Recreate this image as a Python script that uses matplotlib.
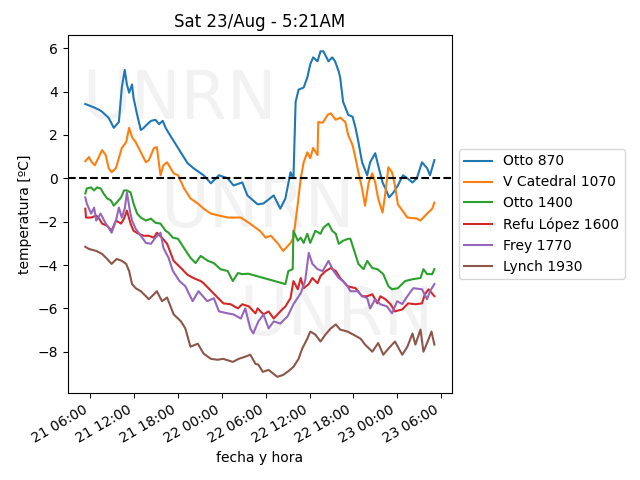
import numpy as np
import pandas as pd
import matplotlib
matplotlib.use('Agg')
import matplotlib.pyplot as plt
import matplotlib.dates as mdates

# hours since 21/Aug 00:00, temperatures in ºC
t_otto870 = [5.3, 6.5, 7.2, 7.6, 8.5, 9.2, 9.9, 10.3, 10.7, 11.0, 11.3, 11.7, 11.9, 12.4, 12.9,
             13.3, 13.7, 14.3, 14.9, 15.4, 15.9, 16.3, 16.7, 18.0, 19.3, 20.1, 21.5, 22.5, 23.6,
             24.8, 25.6, 26.8, 27.5, 28.9, 29.7, 31.1, 32.0, 32.7, 33.4, 33.8, 34.1, 34.5, 35.2,
             35.7, 36.1, 36.5, 37.1, 37.5, 37.9, 38.6, 39.1, 39.5, 40.0, 40.2, 40.6, 41.3, 41.9,
             42.3, 42.7, 43.2, 43.9, 44.3, 45.0, 45.4, 46.0, 46.4, 46.9, 47.5, 48.1, 48.8, 49.4,
             50.1, 50.7, 51.4, 52.1, 52.5, 53.1]
v_otto870 = [3.43, 3.27, 3.16, 3.07, 2.79, 2.33, 2.6, 4.19, 5.0, 4.33, 3.95, 4.33, 3.72, 2.93, 2.23,
             2.33, 2.47, 2.65, 2.7, 2.5, 2.65, 2.33, 2.1, 1.4, 0.7, 0.47, 0.14, -0.23, 0.14,
             0.0, -0.33, -0.19, -0.79, -1.2, -1.16, -0.79, -1.4, -0.93, 0.28, 0.0, 3.53, 4.09, 4.19,
             4.65, 5.26, 5.58, 5.4, 5.86, 5.86, 5.4, 5.58, 5.4, 4.93, 4.65, 3.53, 2.93, 2.84,
             2.33, 1.67, 0.74, 0.14, 0.74, 1.16, 0.6, -0.19, -0.47, -0.88, -0.65, -0.33, 0.14, 0.0,
             -0.19, 0.0, 0.74, 0.47, 0.14, 0.84]

t_catedral = [5.3, 5.8, 6.2, 6.6, 7.6, 8.1, 8.5, 8.9, 9.5, 10.3, 10.9, 11.3, 11.7, 12.2, 12.9,
              13.6, 14.0, 14.7, 15.1, 15.6, 16.0, 16.5, 17.4, 18.0, 18.8, 19.7, 20.7, 21.5, 22.5,
              24.8, 26.6, 27.9, 29.3, 30.0, 30.7, 31.6, 32.4, 33.4, 33.8, 34.4, 34.8, 35.2, 35.7,
              36.1, 36.5, 37.1, 37.2, 37.8, 38.5, 38.9, 39.6, 40.2, 40.9, 41.3, 41.9, 42.3, 42.7,
              43.2, 43.6, 44.1, 44.6, 45.0, 45.4, 46.0, 46.4, 46.8, 47.3, 47.7, 48.1, 49.4, 50.7,
              51.2, 52.1, 52.8, 53.1]
v_catedral = [0.79, 0.98, 0.74, 0.6, 1.3, 1.07, 0.47, 0.28, 0.47, 1.4, 1.67, 2.33, 1.9, 1.67, 1.2,
              0.74, 0.84, 1.4, 1.44, 0.14, 0.6, 0.74, 0.23, 0.14, -0.45, -0.93, -1.16, -1.4, -1.63,
              -1.81, -1.81, -2.1, -2.45, -2.74, -2.65, -2.98, -3.35, -2.98, -2.74, -1.16, 0.0, 0.74, 1.2,
              0.93, 1.4, 1.07, 2.6, 2.56, 2.93, 3.0, 2.7, 2.8, 2.6, 2.0, 1.53, 0.93, 0.28,
              -0.47, -1.26, -0.19, 0.23, -0.19, -0.93, -1.58, -0.65, 0.51, 0.28, -0.33, -1.2, -1.81, -1.86,
              -1.95, -1.63, -1.4, -1.12]

t_otto1400 = [5.3, 5.5, 6.1, 6.5, 6.9, 7.4, 7.8, 8.3, 8.8, 9.2, 9.6, 10.2, 10.6, 11.0, 11.5,
              11.9, 12.4, 12.9, 13.6, 14.3, 14.9, 15.6, 16.3, 16.7, 17.3, 18.0, 18.8, 19.7, 20.4,
              21.1, 22.1, 22.9, 23.8, 24.8, 25.5, 26.2, 26.8, 27.6, 32.7, 33.1, 33.7, 33.8, 34.4,
              34.8, 35.2, 35.7, 36.1, 36.8, 37.5, 37.9, 38.6, 39.1, 39.6, 40.0, 40.6, 41.3, 41.6,
              42.0, 42.7, 43.4, 43.9, 44.6, 45.3, 46.1, 46.8, 47.3, 48.1, 49.1, 50.2, 51.2, 51.6,
              52.1, 52.8, 53.1]
v_otto1400 = [-0.7, -0.47, -0.42, -0.56, -0.42, -0.47, -0.7, -0.93, -1.02, -1.26, -1.12, -0.88, -0.56, -0.56, -0.65,
              -1.16, -1.63, -1.81, -1.95, -1.86, -2.05, -2.09, -2.42, -2.51, -2.74, -2.79, -3.21, -3.67, -3.91,
              -3.58, -3.81, -3.91, -4.19, -4.28, -4.74, -4.37, -4.42, -4.4, -4.88, -4.28, -4.19, -2.42, -2.88,
              -2.74, -2.98, -2.56, -2.98, -2.42, -2.56, -2.28, -2.09, -2.42, -2.56, -3.02, -2.88, -2.79, -2.79,
              -3.21, -3.95, -4.19, -3.81, -4.14, -4.19, -4.42, -4.98, -5.12, -5.07, -4.74, -4.65, -4.6, -4.19,
              -4.42, -4.42, -4.19]

t_lopez = [5.3, 5.4, 6.1, 6.8, 7.2, 7.6, 8.3, 8.9, 9.5, 10.2, 10.6, 11.0, 11.5, 11.9, 12.6,
           13.3, 14.0, 14.7, 15.1, 15.8, 16.5, 17.4, 18.4, 19.3, 20.1, 21.1, 21.5, 24.2, 25.2,
           26.2, 26.8, 27.7, 28.6, 28.9, 29.7, 30.4, 31.1, 32.0, 32.7, 33.4, 33.8, 34.4, 34.8,
           35.2, 35.9, 36.4, 37.1, 37.5, 38.2, 38.9, 39.6, 40.2, 41.2, 42.3, 43.2, 43.9, 44.6,
           45.3, 45.7, 46.4, 47.1, 47.7, 48.7, 49.5, 50.5, 51.4, 51.8, 52.3, 53.1]
v_lopez = [-1.4, -1.81, -1.81, -1.72, -1.86, -2.09, -2.19, -2.42, -1.95, -2.09, -1.86, -1.49, -2.09, -2.42, -2.56,
           -2.65, -2.65, -2.74, -2.51, -2.74, -3.02, -3.81, -4.14, -4.45, -4.6, -4.74, -4.84, -5.77, -5.81,
           -6.0, -5.81, -5.91, -6.23, -6.0, -6.28, -6.14, -6.47, -6.14, -5.91, -5.53, -4.74, -5.12, -4.6,
           -5.07, -4.88, -4.6, -4.84, -4.51, -4.28, -4.14, -4.28, -4.6, -4.98, -5.07, -5.44, -5.44, -5.35,
           -5.77, -5.44, -5.58, -5.81, -6.14, -6.05, -5.77, -5.81, -5.77, -5.35, -5.12, -5.44]

t_frey = [5.3, 5.5, 6.1, 6.5, 6.8, 7.4, 8.1, 8.5, 8.9, 9.5, 9.9, 10.3, 10.7, 11.0, 11.4,
          11.7, 12.2, 12.9, 13.6, 14.3, 14.9, 15.6, 16.0, 16.7, 17.3, 18.2, 19.0, 20.0, 20.8,
          22.0, 22.9, 23.6, 24.8, 25.6, 26.6, 27.2, 27.9, 28.3, 29.0, 29.7, 30.4, 31.1, 32.0,
          33.0, 33.8, 34.8, 35.4, 35.9, 36.4, 37.1, 37.8, 38.6, 39.3, 40.0, 40.6, 41.2, 41.6,
          42.6, 43.2, 43.9, 44.3, 45.0, 45.7, 46.6, 47.3, 48.0, 48.7, 49.4, 50.2, 51.4, 52.1,
          52.5, 53.1]
v_frey = [-0.88, -1.16, -1.63, -1.35, -1.95, -1.63, -2.09, -2.28, -2.51, -1.95, -1.35, -1.81, -1.4, -0.65, -1.49,
          -1.95, -2.33, -2.65, -2.98, -3.02, -2.74, -2.51, -3.21, -3.67, -4.28, -4.74, -4.98, -5.67, -5.21,
          -5.67, -5.53, -6.14, -6.23, -6.28, -6.47, -6.0, -6.93, -7.16, -6.6, -6.28, -6.93, -6.6, -6.7,
          -6.37, -5.81, -5.3, -4.74, -3.44, -3.95, -4.19, -4.28, -3.81, -4.28, -4.6, -4.74, -4.98, -5.21,
          -5.21, -5.44, -5.53, -6.0, -5.58, -5.81, -5.91, -6.23, -5.67, -5.8, -5.44, -5.07, -5.12, -5.58,
          -5.21, -4.88]

t_lynch = [5.3, 5.8, 6.8, 7.6, 8.3, 8.9, 9.6, 10.3, 10.9, 11.3, 11.7, 12.2, 12.9, 13.6, 14.0,
           14.7, 15.1, 15.8, 16.5, 17.4, 18.4, 19.0, 19.7, 20.7, 21.5, 22.5, 23.4, 24.2, 25.5,
           26.3, 27.2, 27.9, 28.6, 29.0, 29.6, 30.4, 31.6, 32.4, 33.1, 33.8, 34.5, 35.0, 35.7,
           36.1, 36.8, 37.5, 38.2, 38.9, 39.6, 40.2, 41.2, 42.0, 43.0, 43.6, 44.6, 45.4, 46.1,
           46.8, 47.7, 48.7, 49.4, 50.1, 50.5, 51.2, 51.6, 52.1, 52.7, 53.1]
v_lynch = [-3.16, -3.26, -3.35, -3.49, -3.72, -3.95, -3.72, -3.81, -3.95, -4.28, -4.88, -5.07, -5.21, -5.44, -5.58,
           -5.35, -5.21, -5.67, -5.5, -6.28, -6.6, -6.93, -7.77, -7.63, -8.09, -8.33, -8.37, -8.33, -8.47,
           -8.33, -8.23, -8.14, -8.56, -8.6, -8.93, -8.84, -9.16, -9.07, -8.9, -8.7, -8.33, -7.86, -7.4,
           -7.07, -7.21, -7.53, -7.2, -6.93, -6.74, -6.98, -7.07, -7.21, -7.4, -7.67, -8.0, -7.6, -8.14,
           -7.86, -7.53, -8.14, -7.77, -7.16, -7.67, -6.98, -8.0, -7.6, -7.07, -7.67]

names = ['Otto 870', 'V Catedral 1070', 'Otto 1400', 'Refu López 1600', 'Frey 1770', 'Lynch 1930']
times = [t_otto870, t_catedral, t_otto1400, t_lopez, t_frey, t_lynch]
temps = [v_otto870, v_catedral, v_otto1400, v_lopez, v_frey, v_lynch]

t0 = pd.Timestamp('2025-08-21 00:00')

fig, ax = plt.subplots(figsize=(6.4, 4.8), dpi=100)

# marca de agua
for xa, ya in [(0.29, 0.818), (0.495, 0.517), (0.70, 0.215)]:
    ax.text(xa, ya, 'UNRN', transform=ax.transAxes, fontsize=48, color='gray',
            alpha=0.1, ha='center', va='center', zorder=0)

for name, t, v in zip(names, times, temps):
    fechas = t0 + pd.to_timedelta(np.array(t), unit='h')
    ax.plot(fechas, v, label=name)

ax.axhline(0, color='k', ls='--', lw=1.5)

ax.xaxis.set_major_locator(mdates.HourLocator(byhour=[0, 6, 12, 18]))
ax.xaxis.set_major_formatter(mdates.DateFormatter('%d %H:%M'))
fig.autofmt_xdate()

ax.set_title('Sat 23/Aug - 5:21AM')
ax.set_xlabel('fecha y hora')
ax.set_ylabel('temperatura [ºC]')
ax.legend(loc='center left', bbox_to_anchor=(1, 0.5))

fig.subplots_adjust(left=0.106, right=0.706, top=0.927, bottom=0.181)
fig.savefig('out.png')
